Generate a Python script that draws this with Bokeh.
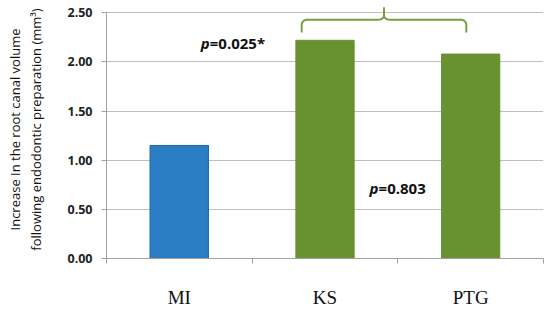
import numpy as np
from bokeh.plotting import figure
from bokeh.models import Range1d, FixedTicker, ColumnDataSource, NumeralTickFormatter
from bokeh.core.properties import value
from bokeh.embed import file_html
from bokeh.resources import INLINE

# ---- data ----
categories = ["MI", "KS", "PTG"]
volumes = [1.15, 2.22, 2.08]
bar_colors = ["#2B7DC4", "#68922F", "#68922F"]
y_ticks = [0.0, 0.5, 1.0, 1.5, 2.0, 2.5]
p_labels = ["=0.025*", "=0.803"]

centers = [i + 0.5 for i in range(len(categories))]

p = figure(width=550, height=313, output_backend="svg", toolbar_location=None,
           x_range=Range1d(0, len(categories)), y_range=Range1d(0, 2.625),
           min_border_left=106, min_border_right=7, min_border_top=0, min_border_bottom=55)
p.outline_line_color = None
p.background_fill_color = "white"

src = ColumnDataSource(dict(x=centers, top=volumes, color=bar_colors, cat=categories))
p.vbar(x="x", top="top", width=0.4, color="color", source=src)
p.vbar(x=centers[:1], top=volumes[:1], width=0.4, fill_color=None,
       line_color="#2369A8", line_width=1)

# x axis: category labels at centers, boundary ticks as minor ticks
p.xaxis.ticker = FixedTicker(ticks=centers, minor_ticks=list(range(len(categories) + 1)))
p.xaxis.major_label_overrides = {c: lab for c, lab in zip(centers, categories)}
p.xaxis.major_tick_line_color = None
p.xaxis.major_tick_out = 0
p.xaxis.major_tick_in = 0
p.xaxis.minor_tick_line_color = "#A0A0A0"
p.xaxis.minor_tick_out = 5
p.xaxis.minor_tick_in = 0
p.xaxis.axis_line_color = "#A0A0A0"
p.xaxis.major_label_standoff = 23
p.xaxis.major_label_text_font = "Liberation Serif"
p.xaxis.major_label_text_font_size = "19px"
p.xaxis.major_label_text_line_height = 0.9
p.xaxis.major_label_text_color = "#111111"
p.xgrid.grid_line_color = None

# y axis
p.yaxis.ticker = FixedTicker(ticks=y_ticks, minor_ticks=[])
p.yaxis.formatter = NumeralTickFormatter(format="0.00")
p.yaxis.bounds = (0, 2.5)
p.yaxis.axis_line_color = "#A0A0A0"
p.yaxis.major_tick_line_color = "#A0A0A0"
p.yaxis.major_tick_out = 5
p.yaxis.major_tick_in = 0
p.yaxis.major_label_standoff = 9
p.yaxis.major_label_text_font = "Open Sans"
p.yaxis.major_label_text_font_style = "bold"
p.yaxis.major_label_text_font_size = "12.5px"
p.yaxis.major_label_text_color = "#222222"
p.yaxis.axis_label = "Increase In the root canal volume\nfollowing endodontic preparation (mm\u00b3)"
p.yaxis.axis_label_text_font = "Open Sans"
p.yaxis.axis_label_text_font_style = "normal"
p.yaxis.axis_label_text_font_size = "13px"
p.yaxis.axis_label_text_color = "#111111"
p.yaxis.axis_label_standoff = 19
p.ygrid.grid_line_color = "#BFBFBF"
p.ygrid.grid_line_width = 1
p.ygrid.ticker = FixedTicker(ticks=y_ticks)

# p-value annotations
ann_x = [0.647, 1.806]
ann_y = [2.19, 0.72]
p.text(x=ann_x, y=ann_y, text=["p", "p"], text_font=value("Open Sans"),
       text_font_style="bold italic", text_font_size="15px", text_baseline="middle",
       text_color="#111111")
p.text(x=[ax + 0.062 for ax in ann_x], y=ann_y, text=p_labels, text_font=value("Open Sans"),
       text_font_style="bold", text_font_size="15px", text_baseline="middle",
       text_color="#111111")

# curly brace over KS and PTG
xl, xr = 1.34, 2.47
xm = (xl + xr) / 2
y_leg, y_mid, y_tip = 2.30, 2.43, 2.555
r = 0.04
t = np.linspace(0, np.pi / 2, 8)
left_corner_x = xl + r * (1 - np.cos(t))
left_corner_y = (y_mid - 0.05) + 0.05 * np.sin(t)
bx = [xl] + list(left_corner_x) + [xm - r] + list(xm - r + r * np.sin(t)) + [xm]
by = [y_leg] + list(left_corner_y) + [y_mid] + list(y_mid + 0.04 * (1 - np.cos(t))) + [y_tip]
bx2 = [2 * xm - v for v in bx]
p.line(x=bx, y=by, line_color="#77A040", line_width=2)
p.line(x=bx2, y=by, line_color="#77A040", line_width=2)

open("out.html", "w").write(file_html(p, INLINE))
